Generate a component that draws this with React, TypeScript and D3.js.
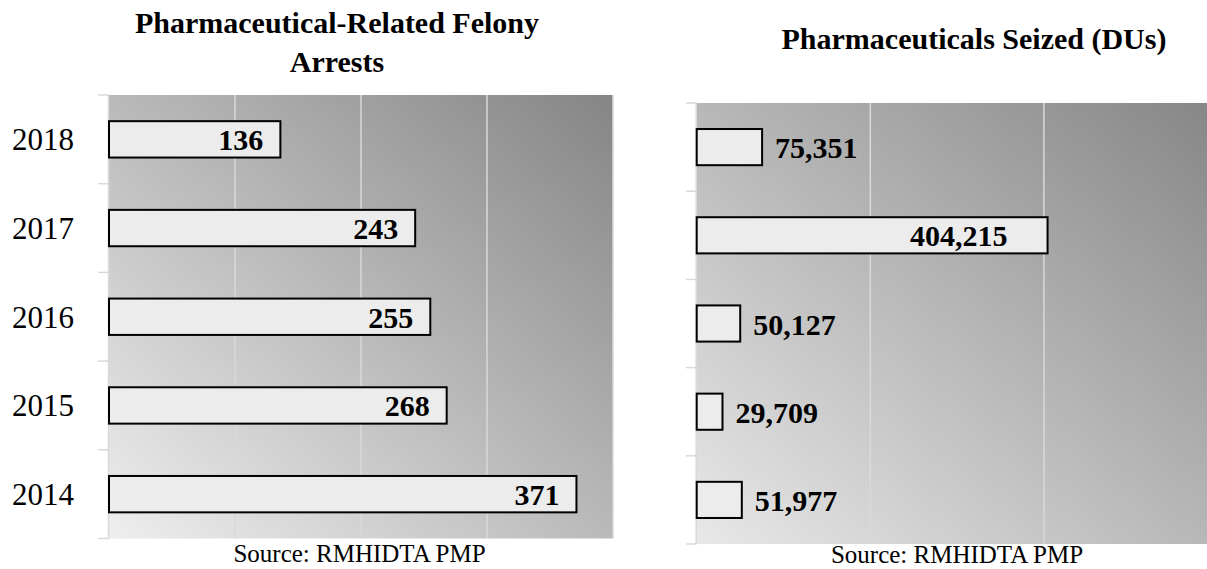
import React from "react";
import * as d3 from "d3";

const years = ["2018", "2017", "2016", "2015", "2014"];
const arrests = [136, 243, 255, 268, 371];
const seized = [75351, 404215, 50127, 29709, 51977];
const arrestTicks = [100, 200, 300, 400];
const seizedTicks = [200000, 400000];
const leftTitle = ["Pharmaceutical-Related Felony", "Arrests"];
const rightTitle = "Pharmaceuticals Seized (DUs)";
const sourceText = "Source: RMHIDTA PMP";

const W = 1207;
const H = 569;
const FONT = "'Liberation Serif', 'Times New Roman', serif";

export default function App() {
  // Left chart
  const lx = d3.scaleLinear().domain([0, 400]).range([109, 613]);
  const ly = d3.scaleBand<string>().domain(years).range([95, 538.5]).paddingInner(0.59).paddingOuter(0.295);
  // Right chart
  const rx = d3.scaleLinear().domain([0, 600000]).range([696.7, 1217.5]);
  const ry = d3.scaleBand<string>().domain(years).range([103, 544]).paddingInner(0.59).paddingOuter(0.295);
  const fmt = d3.format(",");

  const lStep = ly.step();
  const rStep = ry.step();
  const lBounds = d3.range(years.length + 1).map((i) => 95 + i * lStep);
  const rBounds = d3.range(years.length + 1).map((i) => 103 + i * rStep);

  return (
    <svg width={W} height={H} style={{ position: "absolute", left: 0, top: 0, background: "#fff" }} fontFamily={FONT}>
      <defs>
        <linearGradient id="bgL" x1="0" y1="1" x2="1" y2="0">
          <stop offset="0" stopColor="#eeeeee" />
          <stop offset="1" stopColor="#858585" />
        </linearGradient>
        <linearGradient id="bgR" x1="0" y1="1" x2="1" y2="0">
          <stop offset="0" stopColor="#e8e8e8" />
          <stop offset="1" stopColor="#878787" />
        </linearGradient>
      </defs>

      {/* Left chart */}
      <rect x={lx(0)} y={95} width={lx(400) - lx(0)} height={538.5 - 95} fill="url(#bgL)" />
      {arrestTicks.map((t) => (
        <line key={t} x1={lx(t)} x2={lx(t)} y1={95} y2={538.5} stroke="#d9d9d9" strokeWidth={1.5} />
      ))}
      <line x1={lx(0) - 0.5} x2={lx(0) - 0.5} y1={95} y2={538.5} stroke="#d9d9d9" strokeWidth={1.5} />
      {lBounds.map((b, i) => (
        <line key={i} x1={98} x2={lx(0)} y1={b} y2={b} stroke="#d9d9d9" strokeWidth={1.5} />
      ))}
      {years.map((yr, i) => (
        <g key={yr}>
          <rect x={lx(0)} y={ly(yr)!} width={lx(arrests[i]) - lx(0)} height={ly.bandwidth()} fill="#ececec" stroke="#000" strokeWidth={2} />
          <text x={lx(arrests[i]) - 17} y={ly(yr)! + ly.bandwidth() / 2 + 11} textAnchor="end" fontWeight="bold" fontSize={30} fill="#000">
            {fmt(arrests[i])}
          </text>
          <text x={74} y={ly(yr)! + ly.bandwidth() / 2 + 11} textAnchor="end" fontSize={31} fill="#000">
            {yr}
          </text>
        </g>
      ))}
      {leftTitle.map((t, i) => (
        <text key={t} x={337} y={33 + i * 39} textAnchor="middle" fontWeight="bold" fontSize={30} fill="#000">
          {t}
        </text>
      ))}
      <text x={359.5} y={561.5} textAnchor="middle" fontSize={25} fill="#000">
        {sourceText}
      </text>

      {/* Right chart */}
      <rect x={rx(0)} y={103} width={W - rx(0)} height={544 - 103} fill="url(#bgR)" />
      {seizedTicks.map((t) => (
        <line key={t} x1={rx(t)} x2={rx(t)} y1={103} y2={544} stroke="#d9d9d9" strokeWidth={1.5} />
      ))}
      <line x1={rx(0) - 0.5} x2={rx(0) - 0.5} y1={103} y2={544} stroke="#d9d9d9" strokeWidth={1.5} />
      {rBounds.map((b, i) => (
        <line key={i} x1={686} x2={rx(0)} y1={b} y2={b} stroke="#d9d9d9" strokeWidth={1.5} />
      ))}
      {years.map((yr, i) => {
        const inside = seized[i] > 300000;
        return (
          <g key={yr}>
            <rect x={rx(0)} y={ry(yr)!} width={rx(seized[i]) - rx(0)} height={ry.bandwidth()} fill="#ececec" stroke="#000" strokeWidth={2} />
            <text
              x={inside ? rx(seized[i]) - 40 : rx(seized[i]) + 13}
              y={ry(yr)! + ry.bandwidth() / 2 + 11}
              textAnchor={inside ? "end" : "start"}
              fontWeight="bold"
              fontSize={30}
              fill="#000"
            >
              {fmt(seized[i])}
            </text>
          </g>
        );
      })}
      <text x={974} y={49} textAnchor="middle" fontWeight="bold" fontSize={30} fill="#000">
        {rightTitle}
      </text>
      <text x={957} y={563} textAnchor="middle" fontSize={25} fill="#000">
        {sourceText}
      </text>
    </svg>
  );
}
